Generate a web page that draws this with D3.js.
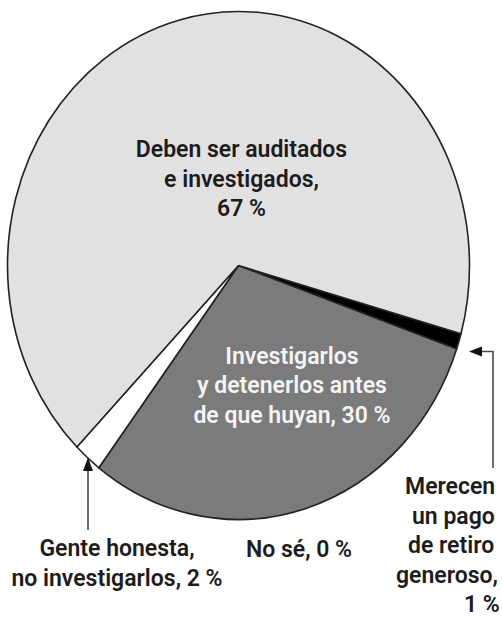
<!DOCTYPE html>
<html>
<head>
<meta charset="utf-8">
<script src="https://cdn.jsdelivr.net/npm/d3@7"></script>
<style>
  html, body { margin: 0; padding: 0; background: #fff; }
  svg { display: block; }
  text { font-family: Roboto, "Noto Sans", sans-serif; font-weight: 600; }
</style>
</head>
<body>
<svg id="chart" width="502" height="617"></svg>
<script>
// ---- Data ----
const categories = [
  "Merecen un pago de retiro generoso",
  "Investigarlos y detenerlos antes de que huyan",
  "Gente honesta, no investigarlos",
  "No sé",
  "Deben ser auditados e investigados"
];
const values = [1, 30, 2, 0, 67];
const sliceColors = ["#000000", "#7b7b7b", "#ffffff", "#ffffff", "#e1e1e1"];
const labelLines = [
  ["Merecen", "un pago", "de retiro", "generoso,", "1 %"],
  ["Investigarlos", "y detenerlos antes", "de que huyan, 30 %"],
  ["Gente honesta,", "no investigarlos, 2 %"],
  ["No sé, 0 %"],
  ["Deben ser auditados", "e investigados,", "67 %"]
];

// ---- Layout ----
const svg = d3.select("#chart");
const cx = 238.5, cy = 265.5, rx = 231, ry = 254;
const start = 105.6 * Math.PI / 180;

const pie = d3.pie().sort(null).value(d => d).startAngle(start).endAngle(start + 2 * Math.PI);
const arcs = pie(values);
const arc = d3.arc().innerRadius(0).outerRadius(rx);

const g = svg.append("g").attr("transform", `translate(${cx},${cy}) scale(1,${ry / rx})`);
g.selectAll("path.slice")
  .data(arcs.filter(a => a.endAngle > a.startAngle))
  .join("path")
  .attr("class", "slice")
  .attr("d", arc)
  .attr("fill", d => sliceColors[d.index])
  .attr("stroke", "#222")
  .attr("stroke-width", 1.6)
  .attr("stroke-linejoin", "round")
  .attr("vector-effect", "non-scaling-stroke");

// ---- Labels ----
const fs = 23, lh = 29.5;
function block(lines, x, y0, color, anchor) {
  const t = svg.append("g");
  lines.forEach((s, i) => {
    t.append("text")
      .attr("x", Array.isArray(x) ? x[i] : x)
      .attr("y", y0 + i * lh)
      .attr("text-anchor", anchor || "middle")
      .attr("font-size", fs)
      .attr("fill", color)
      .text(s);
  });
}
block(labelLines[4], 241.5, 157, "#1c1c1c");
block(labelLines[1], 292, 363.5, "#f4f4f4");
block(labelLines[2], 117, 556, "#1c1c1c");
block(labelLines[3], 299, 556.5, "#1c1c1c");
block(labelLines[0], [405, 412, 408, 396, 464], 494, "#1c1c1c", "start");

// ---- Arrows ----
const lineColor = "#4a4a4a";
// Gente honesta arrow (pointing up)
svg.append("line").attr("x1", 88).attr("x2", 88).attr("y1", 530).attr("y2", 468)
  .attr("stroke", lineColor).attr("stroke-width", 1.6);
svg.append("path").attr("d", "M88,457.5 L83,471 L93,471 Z").attr("fill", "#111");
// Merecen arrow (up then left)
svg.append("path").attr("d", "M493,468 L493,351.5 L478,351.5")
  .attr("fill", "none").attr("stroke", lineColor).attr("stroke-width", 1.6);
svg.append("path").attr("d", "M469,351.5 L482,346.5 L482,356.5 Z").attr("fill", "#111");
</script>
</body>
</html>
